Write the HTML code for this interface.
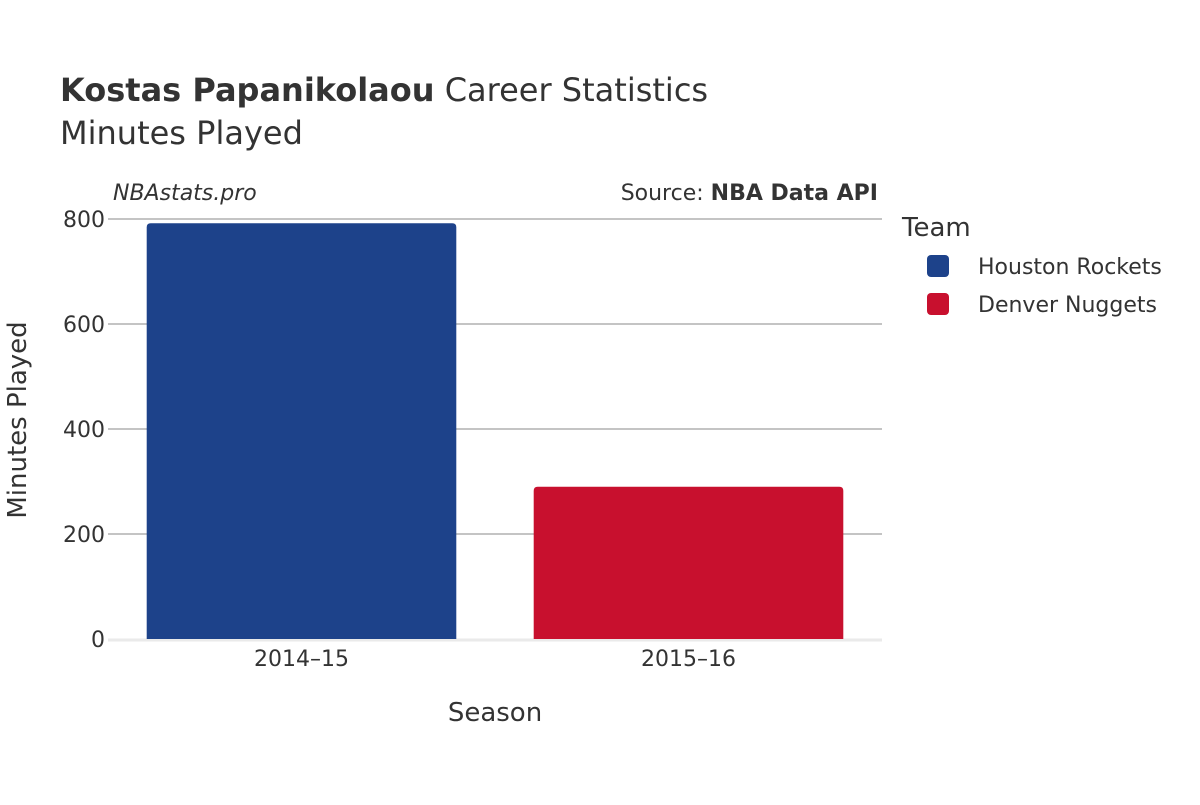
<!DOCTYPE html>
<html><head><meta charset="utf-8"><style>
body{margin:0;background:#fff;}
svg text{font-family:"DejaVu Sans","Liberation Sans",sans-serif;fill:#333;}
</style></head><body>
<svg width="1200" height="800" xmlns="http://www.w3.org/2000/svg">
<text x="60" y="101" font-size="32"><tspan font-weight="bold">Kostas Papanikolaou</tspan> Career Statistics</text>
<text x="60" y="144" font-size="32">Minutes Played</text>
<text x="113" y="200" font-size="22" font-style="italic">NBAstats.pro</text>
<text x="878" y="200" font-size="22" text-anchor="end">Source: <tspan font-weight="bold">NBA Data API</tspan></text>
<g id="grid"></g>
<g id="bars"></g>
<g id="xticks"></g>
<text x="495" y="721" font-size="26" text-anchor="middle">Season</text>
<text x="0" y="0" font-size="26" text-anchor="middle" transform="translate(26,420) rotate(-90)">Minutes Played</text>
<text x="902" y="236" font-size="26">Team</text>
<g id="legend"></g>
</svg>
<script>
const categories=["2014–15","2015–16"];
const teams=["Houston Rockets","Denver Nuggets"];
const values=[792,290];
const colors=["#1d428a","#c8102e"];
const yTicks=[0,200,400,600,800];
const ns="http://www.w3.org/2000/svg";
const L=108,R=882,Y0=639,Y1=219,YMAX=800;
const y=v=>Y0-(v/YMAX)*(Y0-Y1);
const bw=(R-L)/categories.length;
const x=i=>L+bw*i;
function mk(t,a,p){const e=document.createElementNS(ns,t);for(const k in a)e.setAttribute(k,a[k]);p.appendChild(e);return e;}
const grid=document.getElementById('grid');
yTicks.forEach(v=>{
 if(v>0){const l=mk('line',{x1:L,x2:R,y1:y(v),y2:y(v),stroke:'#888','stroke-width':1},grid);
 
 }
 const t=mk('text',{x:L-3,y:y(v)+8,'font-size':22,'text-anchor':'end'},grid);t.textContent=v;
 
 
});
const zl=mk('line',{x1:L,x2:R,y1:Y0+1,y2:Y0+1,stroke:'#eaeaea','stroke-width':3},grid);


const bars=document.getElementById('bars'),xt=document.getElementById('xticks');
categories.forEach((c,i)=>{
 const w=bw*0.8,x0=x(i)+bw*0.1,top=y(values[i]);
 const r=4;
 const p=mk('path',{d:`M${x0},${Y0}V${top+r}Q${x0},${top} ${x0+r},${top}H${x0+w-r}Q${x0+w},${top} ${x0+w},${top+r}V${Y0}Z`,fill:colors[i]},bars);
 
 
 const t=mk('text',{x:x(i)+bw/2,y:666,'font-size':22,'text-anchor':'middle'},xt);t.textContent=c;
 
 
});
const lg=document.getElementById('legend');
teams.forEach((n,i)=>{
 const g=mk('g',{},lg);
 
 
 mk('rect',{x:927,y:255+i*38,width:22,height:22,rx:4,fill:colors[i]},g);
 const t=mk('text',{x:978,y:274+i*38,'font-size':22},g);t.textContent=n;
});
</script>
</body></html>
